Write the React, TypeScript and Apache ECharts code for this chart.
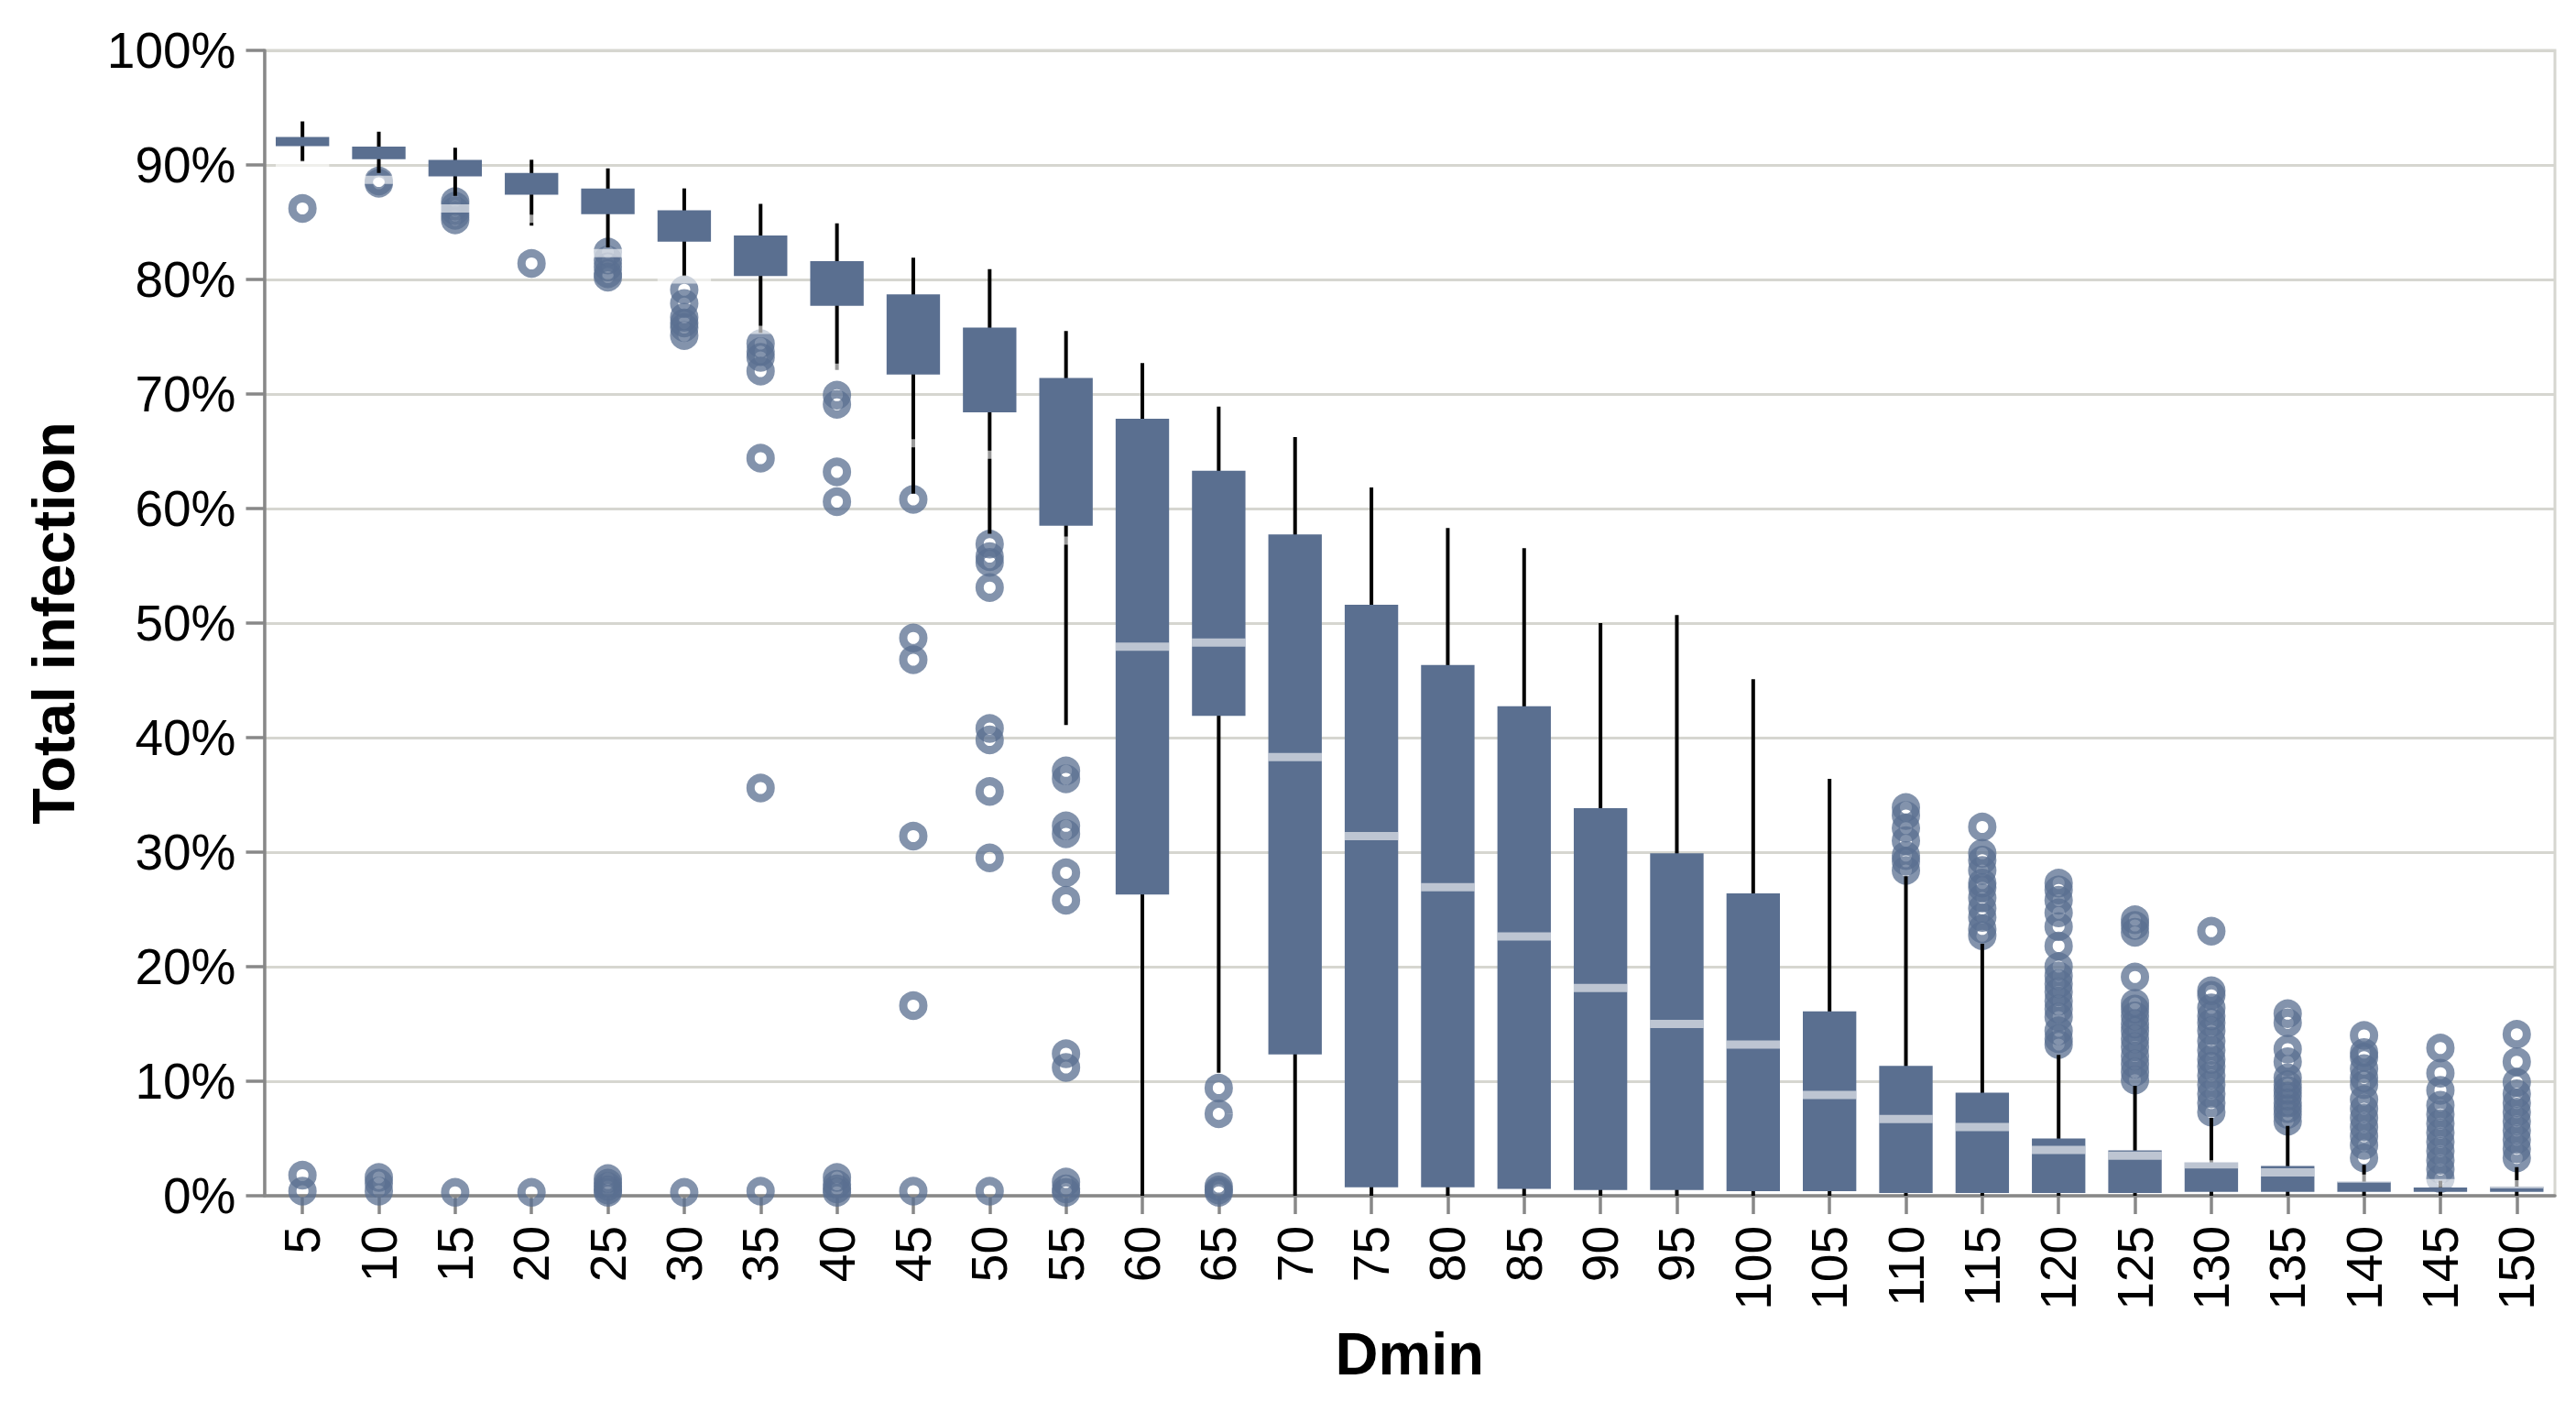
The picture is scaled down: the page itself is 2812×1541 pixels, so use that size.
import React, { useEffect, useRef } from "react";
import * as echarts from "echarts";

const categories = ["5","10","15","20","25","30","35","40","45","50","55","60","65","70","75","80","85","90","95","100","105","110","115","120","125","130","135","140","145","150"];

// whisker low, q1, centre tick, q3, whisker high (percent)
const whiskerLow = [90.3, 89.3, 87.3, 84.7, 82.8, 80.3, 75.35, 72.1, 61.3, 57.8, 41.1, 0, 10.75, 0, 0, 0, 0, 0, 0, 0, 0, 0, 0, 0, 0, 0, 0, 0, 0, 0];
const q1 = [91.65, 90.5, 89.0, 87.4, 85.7, 83.3, 80.3, 77.7, 71.7, 68.4, 58.5, 26.3, 41.9, 12.35, 0.75, 0.75, 0.6, 0.5, 0.5, 0.4, 0.4, 0.25, 0.25, 0.25, 0.25, 0.35, 0.35, 0.35, 0.35, 0.35];
const centreTick = [90.0, 88.7, 86.2, 85.3, 82.3, 80.0, 75.6, 72.3, 65.7, 64.7, 57.2, 47.95, 48.3, 38.3, 31.4, 26.95, 22.65, 18.15, 15.0, 13.2, 8.8, 6.7, 6.0, 4.0, 3.5, 2.75, 2.05, 1.5, 1.1, 1.0];
const q3 = [92.45, 91.6, 90.45, 89.3, 87.95, 86.05, 83.85, 81.6, 78.7, 75.8, 71.4, 67.85, 63.3, 57.75, 51.6, 46.35, 42.75, 33.85, 29.9, 26.4, 16.1, 11.35, 9.0, 5.0, 3.97, 2.93, 2.6, 1.25, 0.72, 0.8];
const whiskerHigh = [93.8, 92.9, 91.5, 90.45, 89.7, 87.95, 86.6, 84.9, 81.9, 80.9, 75.5, 72.7, 68.9, 66.25, 61.85, 58.3, 56.55, 50.0, 50.7, 45.1, 36.4, 27.9, 22.0, 12.3, 9.6, 6.8, 6.1, 2.7, 1.3, 2.5];

const outliers: number[][] = [
  [86.2, 1.8, 0.4],
  [88.6, 88.4, 1.6, 1.1, 0.4],
  [86.8, 86.4, 86.0, 85.6, 85.2, 0.3],
  [81.4, 0.3],
  [82.4, 81.7, 81.1, 80.5, 80.2, 1.5, 1.1, 0.8, 0.5, 0.3],
  [79.1, 77.9, 76.7, 76.2, 75.8, 75.1, 0.3],
  [74.4, 73.7, 73.2, 72.0, 64.4, 35.6, 0.4],
  [69.9, 69.1, 63.2, 60.6, 1.6, 1.0, 0.6, 0.3],
  [60.8, 48.7, 46.8, 31.4, 16.6, 0.4],
  [56.9, 55.8, 55.3, 53.1, 40.8, 39.8, 35.3, 29.5, 0.4],
  [37.1, 36.4, 32.3, 31.6, 28.2, 25.8, 12.4, 11.2, 1.2, 0.6, 0.3],
  [],
  [9.4, 7.15, 0.8, 0.5, 0.3],
  [],
  [],
  [],
  [],
  [],
  [],
  [],
  [],
  [33.9, 33.2, 32.1, 31.0, 29.7, 29.2, 28.4],
  [32.2, 29.9, 29.3, 28.4, 27.3, 26.9, 26.0, 25.1, 24.3, 23.3, 22.7],
  [27.3, 26.7, 25.8, 24.7, 23.5, 21.8, 20.0, 19.2, 18.5, 17.8, 17.0, 16.3, 15.6, 14.4, 13.7, 13.2],
  [24.1, 23.6, 23.0, 19.1, 16.8, 16.3, 15.7, 15.0, 14.4, 13.7, 13.0, 12.2, 11.5, 10.8, 10.1],
  [23.1, 17.9, 17.5, 16.4, 15.7, 15.1, 14.4, 13.5, 12.7, 11.9, 11.3, 10.5, 9.7, 8.9, 8.1, 7.3],
  [15.9, 15.1, 12.8, 11.7, 10.3, 9.7, 9.2, 8.7, 8.1, 7.6, 7.1, 6.5],
  [14.0, 12.5, 12.1, 11.1, 10.3, 9.7, 8.4, 7.6, 6.8, 6.0, 5.2, 4.4, 3.3],
  [12.9, 10.7, 9.2, 7.9, 7.1, 6.3, 5.5, 4.7, 3.9, 3.1, 2.3, 1.5],
  [14.1, 11.7, 9.9, 8.9, 8.1, 7.3, 6.5, 5.7, 4.9, 4.1, 3.3],
];

const yTicks = { min: 0, max: 100, interval: 10 };

const FONT = "'Liberation Sans', Arial, Helvetica, sans-serif";
const BOX = "#5a6f90";

export default function App() {
  const ref = useRef<HTMLDivElement>(null);
  useEffect(() => {
    if (!ref.current) return;
    const chart = echarts.init(ref.current, undefined, { renderer: "svg" });
    const boxData = categories.map((_, i) => [i, whiskerLow[i], q1[i], centreTick[i], q3[i], whiskerHigh[i]]);
    const outlierData: number[][] = [];
    outliers.forEach((arr, i) => arr.forEach((v) => outlierData.push([i, v])));
    chart.setOption({
      animation: false,
      backgroundColor: "#fff",
      grid: {
        left: 288.5,
        right: 23,
        top: 55,
        bottom: 236,
        show: true,
        borderColor: "#d6d6d0",
        borderWidth: 3,
        containLabel: false,
      },
      xAxis: {
        type: "category",
        data: categories,
        boundaryGap: true,
        name: "Dmin",
        nameLocation: "middle",
        nameGap: 140,
        nameTextStyle: { fontFamily: FONT, fontSize: 65, fontWeight: "bold", color: "#000" },
        axisLine: { show: true, lineStyle: { color: "#888", width: 3.5 } },
        axisTick: { show: true, alignWithLabel: true, length: 20, lineStyle: { color: "#888", width: 3.5 } },
        axisLabel: { rotate: 90, fontFamily: FONT, fontSize: 55, color: "#000", margin: 33, interval: 0 },
        splitLine: { show: false },
      },
      yAxis: {
        type: "value",
        min: yTicks.min,
        max: yTicks.max,
        interval: yTicks.interval,
        name: "Total infection",
        nameLocation: "middle",
        nameGap: 198,
        nameTextStyle: { fontFamily: FONT, fontSize: 65, fontWeight: "bold", color: "#000" },
        axisLine: { show: true, lineStyle: { color: "#888", width: 3.5 } },
        axisTick: { show: true, length: 20, lineStyle: { color: "#888", width: 3.5 } },
        axisLabel: { formatter: "{value}%", fontFamily: FONT, fontSize: 55, color: "#000", margin: 31 },
        splitLine: { show: true, lineStyle: { color: "#d6d6d0", width: 3 } },
      },
      series: [
        {
          type: "scatter",
          data: outlierData,
          symbol: "circle",
          symbolSize: 22,
          z: 2,
          itemStyle: { color: "rgba(0,0,0,0)", borderColor: BOX, borderWidth: 9, opacity: 0.75 },
          silent: true,
        },
        {
          type: "custom",
          data: boxData,
          z: 3,
          silent: true,
          encode: { x: 0, y: [1, 2, 3, 4, 5] },
          renderItem: (params: any, api: any) => {
            const x = api.value(0);
            const pLo = api.coord([x, api.value(1)]);
            const pQ1 = api.coord([x, api.value(2)]);
            const pMid = api.coord([x, api.value(3)]);
            const pQ3 = api.coord([x, api.value(4)]);
            const pHi = api.coord([x, api.value(5)]);
            const bw = api.size([1, 0])[0] * 0.7;
            return {
              type: "group",
              children: [
                {
                  type: "line",
                  shape: { x1: pLo[0], y1: pLo[1], x2: pHi[0], y2: pHi[1] },
                  style: { stroke: "#000", lineWidth: 4 },
                },
                {
                  type: "rect",
                  shape: { x: pQ3[0] - bw / 2, y: pQ3[1], width: bw, height: pQ1[1] - pQ3[1] },
                  style: { fill: BOX },
                },
                {
                  type: "rect",
                  shape: { x: pMid[0] - bw / 2, y: pMid[1] - 4.5, width: bw, height: 9 },
                  style: { fill: "rgba(255,255,255,0.6)" },
                },
              ],
            };
          },
        },
      ],
    });
    return () => chart.dispose();
  }, []);
  return <div ref={ref} style={{ position: "absolute", left: 0, top: 0, width: 2812, height: 1541 }} />;
}
